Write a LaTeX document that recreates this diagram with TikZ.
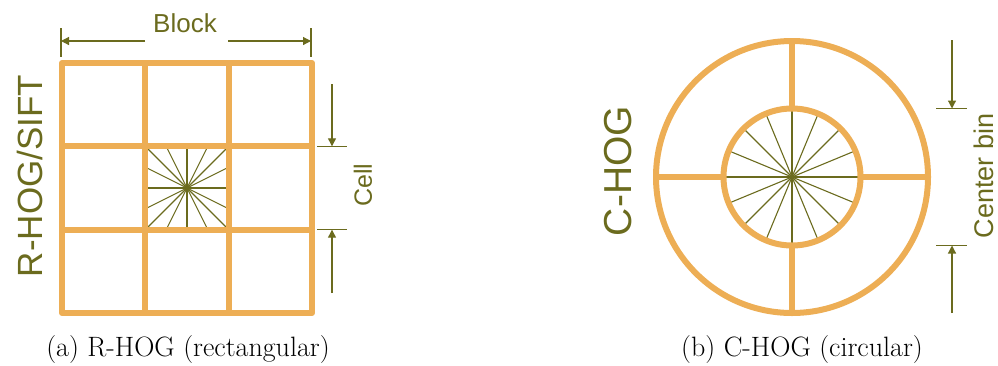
\documentclass[tikz,border=0pt]{standalone}
\usepackage{fontspec}
\newfontfamily\hogsans{Liberation Sans}
\usetikzlibrary{arrows.meta,calc}
\definecolor{hogorange}{RGB}{237,174,85}
\definecolor{hogolive}{RGB}{107,107,30}
\tikzset{
  gridline/.style={draw=hogorange, line width=6pt, line join=round},
  ray/.style={draw=hogolive, line width=1.1pt},
  dimline/.style={draw=hogolive, line width=1.2pt},
  dimarrow/.style={dimline, -{Triangle[length=8pt,width=8pt]}},
  lbl/.style={text=hogolive, font=\hogsans\fontsize{#1}{#1}\selectfont, inner sep=0pt},
  captxt/.style={font=\fontsize{28}{32}\selectfont, inner sep=0pt}
}
\begin{document}
\begin{tikzpicture}[x=1pt,y=-1pt]
\useasboundingbox (0,0) rectangle (998,365);

% ---------- (a) R-HOG ----------
\coordinate (c1) at (187,188);
\begin{scope}
  \clip (145.3,146.3) rectangle (228.7,229.7);
  \foreach \a in {0,26.565,45,63.435,90,116.565,135,153.435}
    \draw[ray] ($(c1)+(\a:70)$) -- ($(c1)+(\a+180:70)$);
\end{scope}
\draw[gridline] (62,63) rectangle (312,313);
\draw[gridline] (145.3,63) -- (145.3,313) (228.7,63) -- (228.7,313)
                (62,146.3) -- (312,146.3) (62,229.7) -- (312,229.7);

% Block dimension
\node[lbl=26] (block) at (185,23) {Block};
\coordinate (bL) at (61,41);
\coordinate (bR) at (311,41);
\coordinate (bLs) at (145,41);
\coordinate (bRs) at (228,41);
\draw[dimline] (61,28) -- (61,57) (311,28) -- (311,57);
\draw[dimarrow] (bLs) -- (bL);
\draw[dimarrow] (bRs) -- (bR);

% Cell dimension
\node[lbl=25, rotate=90] (cell) at (363,185) {Cell};
\coordinate (cT) at (332,146.3);
\coordinate (cB) at (332,229.7);
\coordinate (cTs) at (332,84);
\coordinate (cBs) at (332,293);
\draw[dimline] (317,146.3) -- (347,146.3) (317,229.7) -- (347,229.7);
\draw[dimarrow] (cTs) -- (cT);
\draw[dimarrow] (cBs) -- (cB);

\node[lbl=35, rotate=90] (rhog) at (30,176) {R-HOG/SIFT};
\node[captxt] (capa) at (188,350) {(a) R-HOG (rectangular)};

% ---------- (b) C-HOG ----------
\coordinate (c2) at (792,177);
\begin{scope}
  \clip (c2) circle (68.5);
  \foreach \a in {0,22.5,...,157.5}
    \draw[ray] ($(c2)+(\a:70)$) -- ($(c2)+(\a+180:70)$);
\end{scope}
\draw[gridline] (c2) circle (136);
\draw[gridline] (c2) circle (68.5);
\draw[gridline] (792,41) -- (792,108.5) (792,245.5) -- (792,313)
                (656,177) -- (723.5,177) (860.5,177) -- (928,177);

% Center bin dimension
\node[lbl=27, rotate=90] (cbin) at (984,176) {Center bin};
\coordinate (zT) at (952,108.5);
\coordinate (zB) at (952,245.5);
\coordinate (zTs) at (952,40);
\coordinate (zBs) at (952,313);
\draw[dimline] (936,108.5) -- (967,108.5) (936,245.5) -- (967,245.5);
\draw[dimarrow] (zTs) -- (zT);
\draw[dimarrow] (zBs) -- (zB);

\node[lbl=39, rotate=90] (chog) at (618,171) {C-HOG};
\node[captxt] (capb) at (802,350) {(b) C-HOG (circular)};
\end{tikzpicture}
\end{document}
